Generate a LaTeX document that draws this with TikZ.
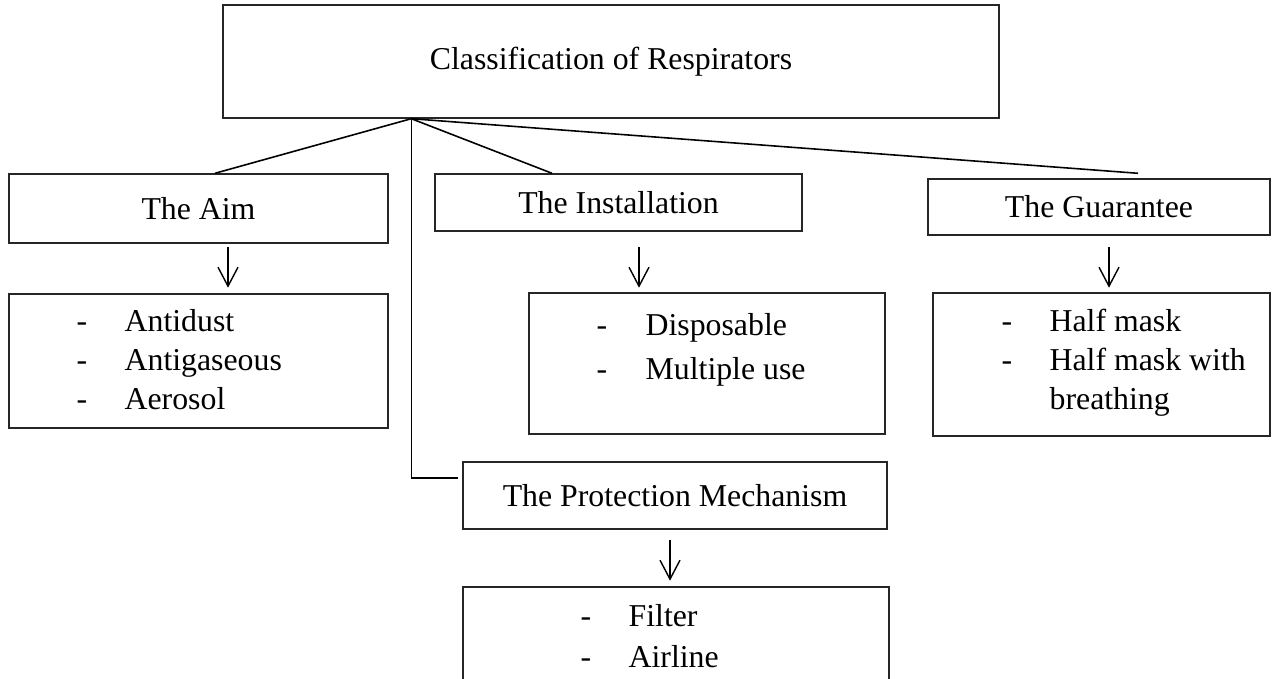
\documentclass[tikz,border=0pt]{standalone}
\usepackage{fontspec}
\setmainfont{Liberation Serif}
\usepackage{tikz}
\usetikzlibrary{arrows.meta,calc,positioning}

\begin{document}
\begin{tikzpicture}[x=1cm,y=1cm,font=\fontsize{18.1}{22}\selectfont,
        box/.style={draw=black!85,line width=0.8pt,inner sep=0pt,align=center},
        items/.style={inner sep=0pt,align=left,anchor=base west},
        branch/.style={black,line width=0.9pt},
        down/.style={-{Straight Barb[length=0.38cm,width=0.40cm]},line width=0.8pt}]
      \useasboundingbox (0,0) rectangle (25.48,-13.58);
      % top of the tree
      \node[box,minimum width=15.52cm,minimum height=2.26cm] (root) at (12.22,-1.23)
        {Classification of Respirators};
      \coordinate (hub) at ($(root.south west)+(3.78,0)$);
      % the four headings
      \node[box,minimum width=7.58cm,minimum height=1.38cm] (aim) at (3.97,-4.17) {The Aim};
      \node[box,minimum width=7.34cm,minimum height=1.14cm] (inst) at (12.37,-4.05) {The Installation};
      \node[box,minimum width=6.84cm,minimum height=1.12cm] (guar) at (21.98,-4.14) {The Guarantee};
      \node[box,minimum width=8.48cm,minimum height=1.34cm] (prot) at (13.50,-9.91)
        {The Protection Mechanism};
      % the lists (base = last line)
      \node[box,minimum width=7.58cm,minimum height=2.68cm] (aimlist) at (3.97,-7.22) {};
      \node[box,minimum width=7.12cm,minimum height=2.82cm] (instlist) at (14.14,-7.27) {};
      \node[box,minimum width=6.74cm,minimum height=2.86cm] (guarlist) at (22.03,-7.29) {};
      \node[box,minimum width=8.52cm,minimum height=2.66cm] (protlist) at (13.52,-13.07) {};
      \node[items] (aimitems) at ($(aimlist.north west)+(1.36,-2.32)$)
        {\makebox[0.96cm][l]{-}Antidust\\\makebox[0.96cm][l]{-}Antigaseous\\\makebox[0.96cm][l]{-}Aerosol};
      \node[items] (institems) at ($(instlist.north west)+(1.36,-1.74)$)
        {\makebox[0.98cm][l]{-}Disposable\\[3pt]\makebox[0.98cm][l]{-}Multiple use};
      \node[items] (guaritems) at ($(guarlist.north west)+(1.38,-2.34)$)
        {\makebox[0.96cm][l]{-}Half mask\\\makebox[0.96cm][l]{-}Half mask with\\\hspace*{0.96cm}breathing};
      \node[items] (protitems) at ($(protlist.north west)+(2.36,-1.62)$)
        {\makebox[0.96cm][l]{-}Filter\\[1.4pt]\makebox[0.96cm][l]{-}Airline};
      % branches
      \draw[branch] (hub) -- ($(aim.north)+(0.33,0)$);
      \draw[branch] (hub) -- ($(inst.north)+(-1.33,0)$);
      \draw[branch] (hub) -- ($(guar.north)+(0.78,0.10)$);
      \draw[branch] (hub) |- ($(prot.west)+(-0.08,0.35)$);
      % arrows
      \draw[down] ($(aim.south)+(0.59,-0.06)$) -- ($(aim.south)+(0.59,-0.88)$);
      \draw[down] ($(inst.south)+(0.41,-0.30)$) -- ($(inst.south)+(0.41,-1.12)$);
      \draw[down] ($(guar.south)+(0.20,-0.22)$) -- ($(guar.south)+(0.20,-1.04)$);
      \draw[down] ($(prot.south)+(-0.10,-0.20)$) -- ($(prot.south)+(-0.10,-1.02)$);
    \end{tikzpicture}
\end{document}
